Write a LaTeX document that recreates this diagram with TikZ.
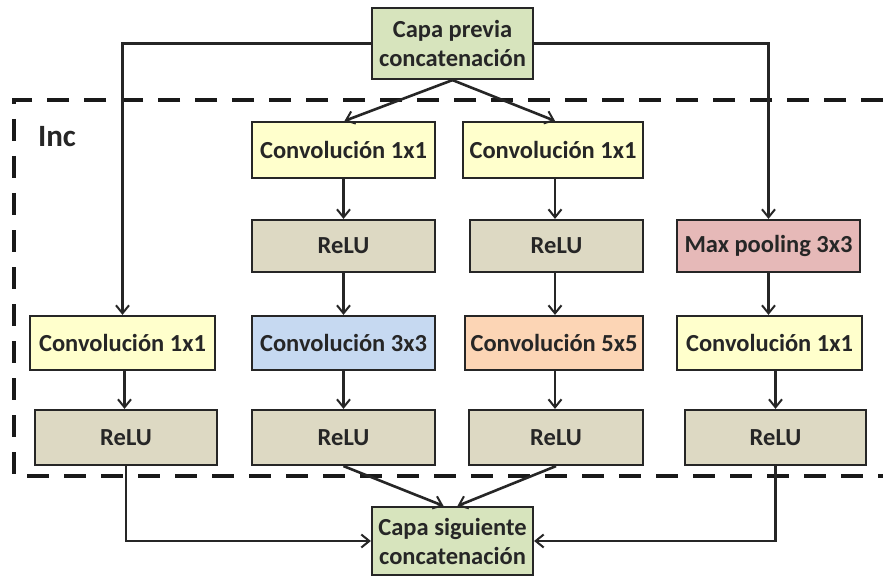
\documentclass[tikz,border=0pt]{standalone}
\usepackage{fontspec}
\setmainfont{Carlito}
\usetikzlibrary{arrows.meta,calc}
\definecolor{cyel}{HTML}{FFFFCC}
\definecolor{ctan}{HTML}{DDD9C3}
\definecolor{cgrn}{HTML}{D7E4BD}
\definecolor{cblu}{HTML}{C6D9F1}
\definecolor{cora}{HTML}{FCD5B5}
\definecolor{cpnk}{HTML}{E6B9B8}
\begin{document}
\begin{tikzpicture}[x=1pt,y=-1pt,
  box/.style={draw=black!85, line width=2.2pt, inner sep=0pt, font=\bfseries\fontsize{24.5}{29}\selectfont, text=black!85, align=center},
  arr/.style={line width=2.6pt, draw=black!85, -{Straight Barb[length=8pt,width=13pt,line width=2pt]}}]
\useasboundingbox[fill=white] (0,0) rectangle (883,580);
\draw[black!90, line width=4pt, dash pattern=on 22pt off 15pt] (883,100) -- (14,100) -- (14,476) -- (883,476);
\node[font=\bfseries\fontsize{31}{34}\selectfont, text=black!85] (inc) at (57,137) {Inc};
\node[box, fill=cgrn, minimum width=161pt, minimum height=71pt] (top) at (452.5,43.5) {Capa previa\\concatenación};
\node[box, fill=cyel, minimum width=183pt, minimum height=56pt] (c1a) at (343.5,150) {Convolución 1x1};
\node[box, fill=cyel, minimum width=180pt, minimum height=56pt] (c1b) at (553,150) {Convolución 1x1};
\node[box, fill=ctan, minimum width=183pt, minimum height=52pt] (r2a) at (343.5,246) {ReLU};
\node[box, fill=ctan, minimum width=173pt, minimum height=52pt] (r2b) at (556.5,246) {ReLU};
\node[box, fill=cpnk, minimum width=183pt, minimum height=52pt] (mp) at (768.5,246) {Max pooling 3x3};
\node[box, fill=cyel, minimum width=185pt, minimum height=54pt] (c3a) at (122.5,343) {Convolución 1x1};
\node[box, fill=cblu, minimum width=183pt, minimum height=54pt] (c3b) at (343.5,343) {Convolución 3x3};
\node[box, fill=cora, minimum width=178pt, minimum height=54pt] (c3c) at (554,343) {Convolución 5x5};
\node[box, fill=cyel, minimum width=185pt, minimum height=54pt] (c3d) at (769.5,343) {Convolución 1x1};
\node[box, fill=ctan, minimum width=182pt, minimum height=55pt] (r4a) at (126,437.5) {ReLU};
\node[box, fill=ctan, minimum width=183pt, minimum height=55pt] (r4b) at (343.5,437.5) {ReLU};
\node[box, fill=ctan, minimum width=174pt, minimum height=55pt] (r4c) at (556,437.5) {ReLU};
\node[box, fill=ctan, minimum width=181pt, minimum height=55pt] (r4d) at (775.5,437.5) {ReLU};
\node[box, fill=cgrn, minimum width=161pt, minimum height=68pt] (bot) at (452.5,541) {Capa siguiente\\concatenación};
% top connections
\draw[arr] (top.west) -| (c3a.north);
\draw[arr] (top.east) -| (mp.north);
\draw[arr] (top.south) -- ([xshift=1pt]c1a.north);
\draw[arr] (top.south) -- ([xshift=2pt]c1b.north);
% columns
\draw[arr] (c1a) -- (r2a);
\draw[arr] (r2a) -- (c3b);
\draw[arr] (c3b) -- (r4b);
\draw[arr] ([xshift=2pt]c1b.south) -- ([xshift=2pt]c1b.south |- r2b.north);
\draw[arr] ([xshift=2pt]c1b.south |- r2b.south) -- ([xshift=2pt]c1b.south |- c3c.north);
\draw[arr] ([xshift=2pt]c1b.south |- c3c.south) -- ([xshift=2pt]c1b.south |- r4c.north);
\draw[arr] (mp.south) -- (mp.south |- c3d.north);
\draw[arr] ([xshift=6pt]c3d.south) -- ([xshift=6pt]c3d.south |- r4d.north);
\draw[arr] ([xshift=2pt]c3a.south) -- ([xshift=2pt]c3a.south |- r4a.north);
% bottom connections
\draw[arr] (r4a.south) |- (bot.west);
\draw[arr] (r4d.south) |- (bot.east);
\draw[arr] (r4b.south) -- ([xshift=-9pt]bot.north);
\draw[arr] (r4c.south) -- ([xshift=5pt]bot.north);
\end{tikzpicture}
\end{document}
